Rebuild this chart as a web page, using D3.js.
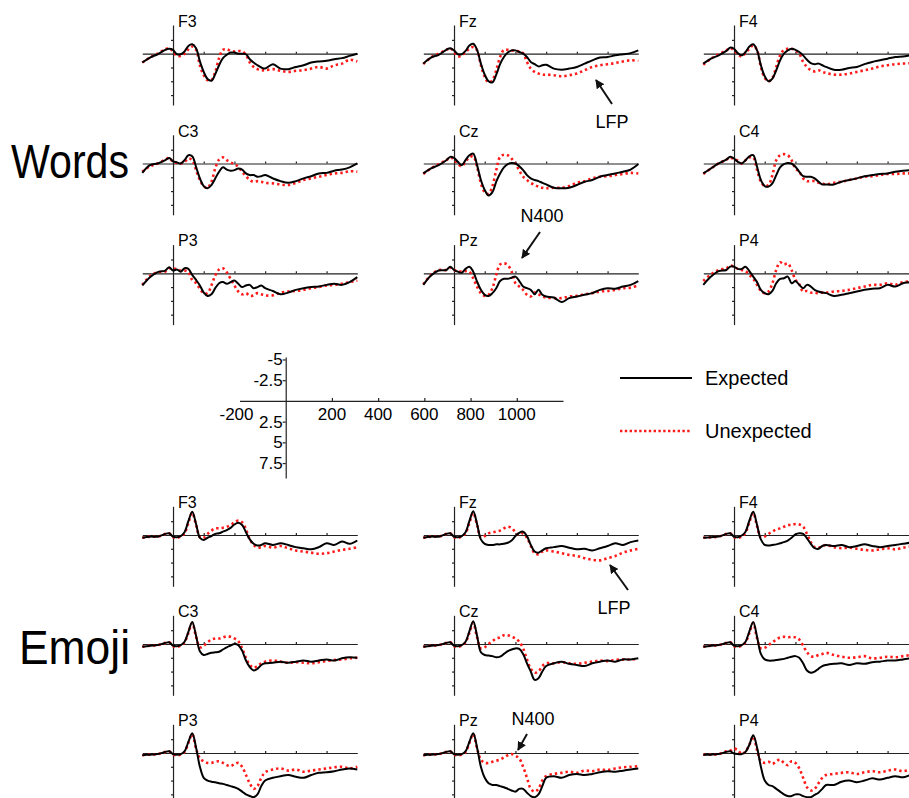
<!DOCTYPE html>
<html>
<head>
<meta charset="utf-8">
<script src="https://cdn.jsdelivr.net/npm/d3@7"></script>
<style>
  body { margin: 0; background: #fff; }
  svg { display: block; font-family: "Liberation Sans", Arial, sans-serif; }
</style>
</head>
<body>
<svg id="chart" width="909" height="798"></svg>
<script>
// sample times (ms)
const times = [-200, -150, -100, -50, -25, 0, 25, 50, 75, 100, 125, 150, 175, 200, 225, 250, 275, 300,
  325, 350, 375, 400, 425, 450, 475, 500, 525, 550, 575, 600, 650, 700, 750, 800, 850, 900, 950,
  1000, 1050, 1100, 1150, 1200];

const electrodes = [['F3', 'Fz', 'F4'], ['C3', 'Cz', 'C4'], ['P3', 'Pz', 'P4']];
const xTickLabels = [-200, 200, 400, 600, 800, 1000];
const yTickLabels = [-5, -2.5, 2.5, 5, 7.5];

// amplitudes in microvolts, negative plotted up
const words_F3_exp = [1.6,0.7,0.1,-0.7,-0.9,-0.7,0.1,0.1,-0.4,-1.4,-1.7,-1.0,1.4,3.3,4.6,4.9,3.7,2.1,0.8,0.2,-0.2,-0.2,0,0,0.1,1.0,1.6,2.1,2.5,2.7, 1.9,2.7,2.8,2.4,2.1,1.6,1.4,1.3,1.0,0.8,0.4,0];
const words_F3_unexp = [1.6,0.7,0,-0.8,-1.0,-0.4,0.4,0.4,0,-0.8,-1.3,-0.7,2.1,3.9,4.8,4.8,3.3,0.8,-0.7,-0.8,-0.5,-0.4,-0.5,-0.4,0.2,1.6,2.4,2.8,3.0,3.0, 2.8,3.1,3.3,3.1,3.0,2.7,2.4,2.7,2.1,1.8,1.1,1.4];
const words_Fz_exp = [1.8,0.7,0.2,-0.7,-1.0,-0.6,0.1,0.1,-0.5,-1.5,-1.8,-0.7,1.8,3.8,5.0,5.2,3.8,1.9,0.6,-0.2,-0.6,-0.6,-0.3,0,0.6,1.5,1.9,2.3,2.1,2.0, 2.7,2.9,2.7,2.4,1.8,1.2,0.7,0.6,0.3,0.1,-0.1,-0.6];
const words_Fz_unexp = [1.9,0.7,0,-0.7,-1.0,-0.3,0.5,0.3,-0.3,-0.9,-1.2,-0.6,2.1,4.2,5.2,4.8,3.0,0.6,-0.7,-0.7,-0.6,-0.5,-0.4,-0.1,1.5,2.7,3.3,3.6,3.8,3.8, 3.9,4.1,3.9,3.6,3.0,2.4,2.1,1.9,1.7,1.4,1.2,1.3];
const words_F4_exp = [1.8,0.9,0.3,-0.5,-1.1,-0.9,-0.1,0.3,-0.3,-1.3,-1.7,-0.6,2.1,4.1,5.0,4.5,3.0,1.2,0,-0.6,-0.9,-0.7,-0.3,0.3,1.1,1.7,1.9,1.8,2.1,2.4, 2.9,2.9,2.6,2.4,1.9,1.5,1.2,0.9,0.6,0.5,0.3,0.1];
const words_F4_unexp = [2.0,0.9,0.1,-0.6,-1.0,-0.6,0.1,0.5,-0.1,-0.9,-1.5,-0.6,2.4,4.4,5.0,4.4,2.4,0.3,-0.7,-0.9,-0.9,-0.6,0,1.5,2.4,3.0,3.2,3.0,3.3,3.5, 3.8,3.8,3.6,3.3,3.0,2.7,2.3,2.1,1.9,1.8,1.7,1.5];
const words_C3_exp = [1.7,0.3,0,-0.6,-1.0,-0.4,-0.2,0,-0.6,-1.5,-1.3,0.6,2.7,4.1,4.5,3.9,2.7,1.5,0.7,1.1,1.3,1.2,0.9,1.1,1.8,2.1,2.1,2.4,2.3,2.1, 2.7,3.2,3.5,3.2,2.7,2.3,1.8,1.7,1.3,1.1,0.7,0];
const words_C3_unexp = [1.5,0.5,0,-0.7,-1.0,-0.3,-0.1,0,-0.3,-0.9,-0.6,1.2,3.0,4.1,4.4,3.3,0.9,-0.7,-1.1,-0.6,-0.2,0.1,0.6,1.5,2.3,3.0,3.3,3.2,3.3,3.5, 3.6,3.8,3.9,3.5,3.0,2.7,2.4,2.1,1.8,1.7,1.4,1.5];
const words_Cz_exp = [1.8,0.9,0.3,-0.6,-1.2,-1.0,-0.3,0.3,-0.6,-1.5,-1.8,0.3,3.0,4.8,5.8,5.2,3.3,1.8,0.7,0.1,-0.1,0,0.5,1.2,2.1,2.7,3.0,3.2,3.5,3.8, 4.4,4.5,4.4,3.9,3.3,3.0,2.4,2.1,1.8,1.5,1.1,0.1];
const words_Cz_unexp = [1.9,0.9,0.1,-0.6,-1.1,-0.7,0.1,0.5,-0.3,-1.1,-1.3,0.6,3.6,5.2,5.5,4.1,1.2,-1.2,-1.6,-1.5,-0.9,0,1.3,2.4,3.0,3.5,3.9,4.2,4.4,4.5, 4.4,4.4,4.1,3.5,3.2,2.7,2.4,2.3,2.1,1.9,1.7,1.8];
const words_C4_exp = [1.8,0.9,0,-0.7,-1.2,-0.9,-0.3,0,-0.6,-1.3,-1.5,0.6,3.0,4.1,4.2,3.6,2.1,0.7,0.1,-0.1,0,0.6,1.5,2.3,2.4,2.4,2.7,3.3,3.8,3.8, 3.8,3.3,3.0,2.7,2.3,2.1,1.9,1.8,1.5,1.3,1.2,0.9];
const words_C4_unexp = [1.9,0.9,0,-0.7,-1.1,-0.7,-0.5,0,-0.6,-1.1,-1.1,1.2,3.3,4.1,3.9,2.1,-0.6,-1.5,-1.7,-1.5,-0.6,0.9,1.5,2.7,3.2,3.2,3.2,3.5,3.6,3.8, 3.5,3.3,3.0,2.7,2.4,2.3,2.1,1.9,1.9,1.8,1.8,1.9];
const words_P3_exp = [2.2,0.7,-0.2,-0.5,-1.1,-0.5,-0.7,-0.3,-0.9,-0.8,0.3,1.2,2.2,3.5,4.1,3.8,2.7,1.8,1.6,1.9,1.6,1.3,1.9,2.5,2.2,2.1,2.7,2.5,2.2,2.7, 3.2,3.8,3.5,3.0,2.7,2.5,2.4,2.1,1.9,2.1,1.6,0.7];
const words_P3_unexp = [2.1,0.5,-0.2,-0.3,-0.9,-0.8,-0.8,-0.5,-0.5,-0.2,1.2,1.8,2.8,3.6,3.6,2.2,0.4,-0.7,-0.9,-0.2,1.0,2.2,3.3,3.8,3.6,4.1,4.0,3.6,3.8,4.0, 4.0,3.5,3.3,3.2,3.0,2.7,2.5,2.2,2.1,1.9,1.6,1.3];
const words_Pz_exp = [2.1,0.4,-0.5,-0.6,-1.2,-0.6,-0.3,-0.1,-0.8,-1.2,-0.3,1.5,3.0,3.9,4.1,3.6,2.7,1.4,1.0,1.0,0.8,0.6,1.4,2.4,2.7,3.0,3.8,3.0,3.9,4.2, 4.4,5.2,4.5,4.2,3.9,3.6,3.0,2.7,2.8,2.4,2.1,1.4];
const words_Pz_unexp = [2.0,0.3,-0.6,-0.6,-1.0,-0.6,-0.4,-0.3,-0.4,-0.3,0.9,2.4,3.6,4.1,3.9,2.7,0.3,-1.6,-1.8,-1.5,-0.3,1.8,2.4,3.0,3.9,4.2,3.5,3.8,4.2,4.4, 4.5,4.5,4.2,4.1,3.8,3.6,3.3,3.2,3.0,2.7,2.6,2.2];
const words_P4_exp = [2.1,0.6,-0.4,-0.6,-1.2,-1.2,-0.8,-0.8,-1.2,-0.4,0.6,1.6,3.0,3.6,3.8,3.2,1.8,1.0,0.9,0.6,1.8,1.4,2.1,2.7,2.1,2.4,3.0,3.3,3.5,3.6, 4.1,3.9,3.6,3.3,3.0,2.8,2.7,2.1,2.4,1.8,1.6,1.2];
const words_P4_unexp = [1.4,0.2,-0.6,-0.9,-1.4,-1.2,-0.8,-0.6,-0.4,0.3,1.0,2.1,3.2,3.6,3.3,1.8,-0.6,-2.0,-1.6,-1.8,-0.6,1.2,2.0,3.3,3.2,3.5,3.5,3.6,3.5,3.5, 3.3,3.2,3.0,2.7,2.4,2.1,2.1,1.8,2.1,1.6,1.5,1.4];

const emoji_F3_exp = [0.5,0.3,0.3,-0.2,-0.3,0.3,0.4,0.2,-0.5,-2.5,-4.2,-2.0,0.5,0.9,0.5,0.2,-0.2,-0.3,-0.6,-0.9,-1.3,-1.9,-2.2,-1.8,-0.5,0.8,1.6,1.9,1.8,1.5, 1.8,1.5,1.8,2.2,2.4,2.6,2.2,1.5,1.8,1.2,1.6,1.0];
const emoji_F3_unexp = [0.5,0.3,0.3,-0.2,-0.3,0.4,0.5,0.3,-0.3,-2.2,-4.0,-1.8,0.4,0.5,-0.2,-0.8,-1.2,-1.2,-1.3,-1.5,-1.8,-2.3,-2.6,-2.3,-1.0,0.8,1.8,2.3,2.2,2.0, 2.3,2.0,2.4,2.8,3.0,3.2,3.4,3.3,3.0,2.7,2.5,2.2];
const emoji_Fz_exp = [0.5,0.3,0.3,-0.2,-0.3,0.3,0.4,0.2,-0.5,-2.5,-4.3,-2.0,0.8,1.6,1.8,1.8,1.7,1.7,1.6,1.4,1.0,0.2,-0.4,-0.6,0.2,1.8,3.0,3.2,2.8,2.4, 2.2,2.0,2.3,2.6,2.5,2.8,2.4,2.0,1.5,1.8,1.3,1.0];
const emoji_Fz_unexp = [0.5,0.3,0.3,-0.2,-0.3,0.4,0.5,0.3,-0.3,-2.2,-4.0,-1.8,0.5,0.2,-0.3,-0.5,-0.6,-0.8,-1.2,-1.5,-1.3,-0.5,0,-0.3,0.5,2.0,3.3,3.5,3.0,2.8, 3.0,3.3,3.6,3.8,4.2,4.5,4.6,4.2,3.8,3.2,2.8,2.5];
const emoji_F4_exp = [0.5,0.4,0.3,-0.2,-0.3,0.3,0.4,0.1,-0.6,-2.6,-4.2,-1.8,0.8,1.8,1.9,1.8,1.7,1.5,1.3,1.0,0.5,-0.1,-0.3,-0.2,0.6,1.6,2.4,2.5,2.0,1.8, 2.0,1.8,2.2,2.0,1.7,2.0,2.2,2.0,1.8,1.6,1.4,1.4];
const emoji_F4_unexp = [0.5,0.4,0.3,-0.2,-0.3,0.4,0.5,0.3,-0.4,-2.3,-4.0,-1.6,0.5,0.3,-0.2,-0.6,-1.0,-1.2,-1.5,-1.8,-1.8,-2.0,-1.9,-1.5,-0.2,1.3,2.2,2.3,2.0,1.8, 2.2,2.4,2.3,2.5,2.7,2.8,2.6,2.4,2.6,2.3,2.1,2.0];
const emoji_C3_exp = [0.5,0.3,0.2,-0.2,-0.3,0.3,0.4,0.2,-0.4,-2.2,-4.0,-1.5,1.3,2.0,1.8,1.6,1.5,1.4,1.0,0.6,0.3,0,0.2,1.2,3.0,4.2,4.8,4.5,3.8,3.5, 3.4,3.2,3.4,3.2,3.0,3.2,3.0,2.8,3.0,2.6,2.4,2.5];
const emoji_C3_unexp = [0.5,0.3,0.2,-0.2,-0.3,0.4,0.5,0.3,-0.3,-2.0,-3.8,-1.3,0.6,0.3,-0.3,-0.8,-1.0,-1.0,-1.2,-1.4,-1.3,-1.0,-0.5,0.8,2.5,3.8,4.3,4.0,3.5,3.2, 3.0,3.2,3.4,3.3,3.4,3.5,3.3,3.1,2.9,2.8,2.6,2.5];
const emoji_Cz_exp = [0.5,0.3,0.2,-0.2,-0.3,0.3,0.4,0.2,-0.4,-2.3,-4.1,-1.5,1.5,2.0,2.1,2.2,2.4,2.3,1.8,1.3,1.0,0.8,0.9,1.8,3.5,5.0,6.5,6.2,5.0,4.0, 3.5,3.2,3.6,3.8,4.0,3.5,3.2,3.0,3.2,2.8,2.8,2.6];
const emoji_Cz_unexp = [0.5,0.3,0.2,-0.2,-0.3,0.4,0.5,0.3,-0.3,-2.0,-3.8,-1.2,0.8,0.6,0,-0.5,-1.0,-1.2,-1.6,-1.6,-1.3,-1.0,-0.4,0.8,2.8,4.5,5.2,5.0,4.0,3.5, 3.5,3.3,3.5,3.6,3.4,3.2,3.0,3.1,2.9,2.8,2.8,2.7];
const emoji_C4_exp = [0.5,0.3,0.2,-0.2,-0.3,0.3,0.4,0.2,-0.4,-2.3,-4.0,-1.3,1.8,2.8,3.0,3.0,2.9,2.8,2.7,2.5,2.3,2.2,2.5,3.5,4.8,5.2,5.0,4.5,4.0,3.8, 3.6,3.5,3.8,3.5,3.6,3.3,3.2,3.0,3.0,2.8,2.6,2.5];
const emoji_C4_unexp = [0.5,0.3,0.2,-0.2,-0.3,0.4,0.5,0.3,-0.3,-2.0,-3.8,-1.0,0.8,0.7,0.2,-0.3,-0.8,-1.2,-1.3,-1.2,-1.3,-1.2,-0.8,0.3,1.5,2.2,2.3,2.0,1.8,1.6, 2.0,2.3,2.5,2.4,2.2,2.6,2.5,2.3,2.4,2.2,2.0,1.8];
const emoji_P3_exp = [0.4,0.3,0.2,-0.2,-0.3,0.2,0.3,0.2,-0.3,-2.0,-3.6,-1.0,2.5,4.5,5.0,5.2,5.3,5.5,5.6,5.8,6.0,6.2,6.5,7.0,7.5,7.8,8.0,7.5,6.0,5.0, 4.5,4.2,4.0,4.3,4.5,4.0,3.6,3.5,3.3,3.0,2.8,3.0];
const emoji_P3_unexp = [0.4,0.3,0.2,-0.2,-0.3,0.3,0.4,0.3,-0.2,-1.8,-3.4,-0.8,1.0,1.5,1.8,1.8,1.6,1.5,1.8,2.2,2.4,2.0,1.8,2.5,4.0,5.5,6.5,6.0,4.5,3.5, 3.0,2.8,3.2,3.0,3.4,3.2,3.0,2.8,2.6,2.5,2.8,2.5];
const emoji_Pz_exp = [0.4,0.3,0.2,-0.2,-0.3,0.2,0.3,0.2,-0.3,-2.0,-3.6,-1.0,2.5,4.5,5.5,5.8,5.8,6.0,6.2,6.5,6.8,7.0,6.5,6.5,7.2,7.8,8.0,7.5,6.0,4.5, 4.2,4.5,4.0,3.8,4.0,3.8,3.5,3.3,3.4,3.2,3.0,2.8];
const emoji_Pz_unexp = [0.4,0.3,0.2,-0.2,-0.3,0.3,0.4,0.3,-0.2,-1.8,-3.4,-0.8,1.2,1.8,1.8,1.6,1.4,1.2,0.8,0.4,0.2,0.5,1.0,2.5,4.5,6.5,7.0,6.5,5.0,4.2, 3.8,3.6,3.4,3.6,3.2,3.3,3.0,3.1,2.8,2.6,2.5,2.4];
const emoji_P4_exp = [0.3,0.3,0.2,-0.2,-0.3,0.1,0.2,0.2,-0.2,-1.5,-3.2,-1.0,2.5,5.0,5.8,6.0,6.5,7.0,7.5,7.8,7.8,7.5,7.5,7.8,8.0,8.0,7.6,7.2,6.5,5.8, 5.8,5.2,5.0,5.3,5.0,4.6,4.8,4.5,4.2,4.4,4.0,3.8];
const emoji_P4_unexp = [0.3,0.3,0.2,-0.3,-0.4,-0.8,-0.5,0.2,-0.3,-1.5,-3.0,-0.5,1.5,1.8,1.6,2.0,1.5,1.2,1.8,2.2,1.5,1.8,2.8,4.5,6.2,6.8,6.5,5.5,4.5,4.0, 3.8,3.6,3.5,3.8,3.5,3.3,3.5,3.2,3.0,3.3,3.0,2.8];

const series = {
  words: {
    F3: [words_F3_exp, words_F3_unexp], Fz: [words_Fz_exp, words_Fz_unexp], F4: [words_F4_exp, words_F4_unexp],
    C3: [words_C3_exp, words_C3_unexp], Cz: [words_Cz_exp, words_Cz_unexp], C4: [words_C4_exp, words_C4_unexp],
    P3: [words_P3_exp, words_P3_unexp], Pz: [words_Pz_exp, words_Pz_unexp], P4: [words_P4_exp, words_P4_unexp]
  },
  emoji: {
    F3: [emoji_F3_exp, emoji_F3_unexp], Fz: [emoji_Fz_exp, emoji_Fz_unexp], F4: [emoji_F4_exp, emoji_F4_unexp],
    C3: [emoji_C3_exp, emoji_C3_unexp], Cz: [emoji_Cz_exp, emoji_Cz_unexp], C4: [emoji_C4_exp, emoji_C4_unexp],
    P3: [emoji_P3_exp, emoji_P3_unexp], Pz: [emoji_Pz_exp, emoji_Pz_unexp], P4: [emoji_P4_exp, emoji_P4_unexp]
  }
};

const svg = d3.select('#chart');
const RED = '#ff1a1a';

svg.append('defs').append('marker')
  .attr('id', 'arrow')
  .attr('viewBox', '0 0 10 10')
  .attr('refX', 9).attr('refY', 5)
  .attr('markerWidth', 9).attr('markerHeight', 9)
  .attr('markerUnits', 'userSpaceOnUse')
  .attr('orient', 'auto')
  .append('path').attr('d', 'M0,0 L10,5 L0,10 Z').attr('fill', '#111');

// panel layout
const colX = [173, 454, 734];
const groups = [
  { key: 'words', title: 'Words', rows: [53.7, 163.5, 273.3], titleX: 11, titleY: 178, titleW: 118 },
  { key: 'emoji', title: 'Emoji', rows: [535, 644, 753], titleX: 19, titleY: 664, titleW: 111 }
];

const line = (x, y) => d3.line()
  .x((d, i) => x(times[i]))
  .y(d => y(d))
  .curve(d3.curveCatmullRom.alpha(0.5));

groups.forEach(g => {
  svg.append('text')
    .attr('x', g.titleX).attr('y', g.titleY)
    .attr('font-size', 48)
    .attr('textLength', g.titleW)
    .attr('lengthAdjust', 'spacingAndGlyphs')
    .text(g.title);

  electrodes.forEach((row, r) => {
    row.forEach((el, c) => {
      const ox = colX[c], oy = g.rows[r];
      const x = d3.scaleLinear().domain([-200, 1200]).range([ox - 30.7, ox + 184.3]);
      const y = d3.scaleLinear().domain([-5.2, 9.3]).range([oy - 28.7, oy + 51.3]);
      const p = svg.append('g');

      p.append('g')
        .attr('transform', `translate(0,${oy})`)
        .call(d3.axisTop(x).tickValues([200, 400, 600, 800, 1000]).tickSize(2).tickSizeOuter(0).tickFormat(''))
        .call(a => a.selectAll('path,line').attr('stroke', '#222').attr('stroke-width', 1.2));
      p.append('g')
        .attr('transform', `translate(${x(0)},0)`)
        .call(d3.axisLeft(y).tickValues([-2.5, 2.5, 5, 7.5]).tickSize(2).tickSizeOuter(0).tickFormat(''))
        .call(a => a.selectAll('path,line').attr('stroke', '#222').attr('stroke-width', 1.2));

      const [exp, unexp] = series[g.key][el];
      p.append('path').datum(unexp)
        .attr('d', line(x, y))
        .attr('fill', 'none').attr('stroke', RED)
        .attr('stroke-width', 2.6).attr('stroke-dasharray', '2.4,3');
      p.append('path').datum(exp)
        .attr('d', line(x, y))
        .attr('fill', 'none').attr('stroke', '#000')
        .attr('stroke-width', 2);

      p.append('text')
        .attr('x', x(0) + 5).attr('y', oy - 27)
        .attr('font-size', 16)
        .text(el);
    });
  });
});

// scale legend
const sx = d3.scaleLinear().domain([-200, 1200]).range([239.5, 563]);
const sy = d3.scaleLinear().domain([-5.3, 9.3]).range([357, 478]);
const sc = svg.append('g').attr('font-size', 17);
sc.append('g')
  .attr('transform', `translate(0,${sy(0)})`)
  .call(d3.axisTop(sx).tickValues(xTickLabels.slice(1)).tickSize(3).tickSizeOuter(0).tickFormat(''))
  .call(a => a.selectAll('path,line').attr('stroke', '#222').attr('stroke-width', 1.2));
sc.append('g')
  .attr('transform', `translate(${sx(0)},0)`)
  .call(d3.axisLeft(sy).tickValues(yTickLabels).tickSize(3).tickSizeOuter(0).tickFormat(''))
  .call(a => a.selectAll('path,line').attr('stroke', '#222').attr('stroke-width', 1.2));
sc.selectAll('text.xl').data(xTickLabels).enter().append('text')
  .attr('class', 'xl')
  .attr('x', d => sx(d) - (d === -200 ? 3 : 0)).attr('y', sy(0) + 19)
  .attr('text-anchor', 'middle')
  .text(d => d);
sc.selectAll('text.yl').data(yTickLabels).enter().append('text')
  .attr('class', 'yl')
  .attr('x', sx(0) - 3).attr('y', d => sy(d) + 6)
  .attr('text-anchor', 'end')
  .text(d => d);

// legend
const legend = [
  { label: 'Expected', y: 378, color: '#000', dash: null, w: 2 },
  { label: 'Unexpected', y: 431, color: RED, dash: '2.4,2.4', w: 2.6 }
];
legend.forEach(l => {
  svg.append('line')
    .attr('x1', 620).attr('x2', 692).attr('y1', l.y).attr('y2', l.y)
    .attr('stroke', l.color).attr('stroke-width', l.w)
    .attr('stroke-dasharray', l.dash);
  svg.append('text')
    .attr('x', 705).attr('y', l.y + 7)
    .attr('font-size', 20)
    .text(l.label);
});

// annotations
const notes = [
  { text: 'LFP', tx: 612, ty: 128, x1: 612, y1: 104, x2: 596, y2: 80 },
  { text: 'N400', tx: 542, ty: 222, x1: 540, y1: 232, x2: 522, y2: 258 },
  { text: 'LFP', tx: 614, ty: 614, x1: 628, y1: 590, x2: 610, y2: 565 },
  { text: 'N400', tx: 533, ty: 725, x1: 527, y1: 734, x2: 518, y2: 750 }
];
notes.forEach(n => {
  svg.append('text')
    .attr('x', n.tx).attr('y', n.ty)
    .attr('text-anchor', 'middle')
    .attr('font-size', 18)
    .text(n.text);
  svg.append('line')
    .attr('x1', n.x1).attr('y1', n.y1).attr('x2', n.x2).attr('y2', n.y2)
    .attr('stroke', '#111').attr('stroke-width', 2)
    .attr('marker-end', 'url(#arrow)');
});
</script>
</body>
</html>
